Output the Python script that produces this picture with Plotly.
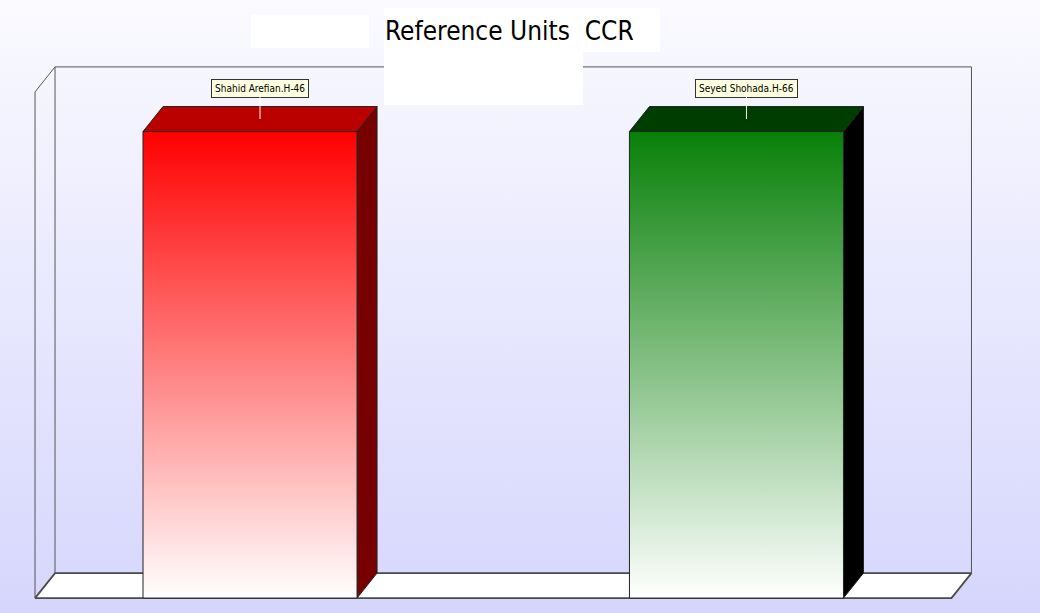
import plotly.graph_objects as go

# data
units = ["Shahid Arefian.H-46", "Seyed Shohada.H-66"]
ccr = [1.0, 1.0]
front_colors = ["#ff0000", "#088008"]
top_colors = ["#bb0000", "#003d00"]
side_colors = ["#770000", "#000000"]

W, H = 1040, 613
BAR_W = 0.44          # bar width in category units
DX, DY = 0.0411, 0.0536   # 3d depth offset
PAD = 0.222           # frame padding beyond outer bars
WALL_TOP = 1.085

X_RANGE = [-0.514, 1.624]
Y_RANGE = [-0.032, 1.282]
NARROW = "Liberation Sans Narrow, Arial Narrow, DejaVu Sans Condensed, sans-serif"

fig = go.Figure()


def poly(xs, ys, **kw):
    fig.add_trace(go.Scatter(
        x=list(xs) + [xs[0]], y=list(ys) + [ys[0]],
        fill="toself", hoverinfo="skip", showlegend=False, **kw))


def line(xs, ys, color="#5a5a5a", width=1.2):
    fig.add_trace(go.Scatter(
        x=xs, y=ys, mode="lines", line=dict(color=color, width=width),
        hoverinfo="skip", showlegend=False))


# background gradient
bx0, bx1 = X_RANGE
by0, by1 = Y_RANGE
poly([bx0, bx1, bx1, bx0], [by0, by0, by1, by1], mode="none",
     fillgradient=dict(type="vertical",
                       colorscale=[[0, "#d6d6fd"], [1, "#fafaff"]]))

# frame: floor, back wall, left wall
L = 0 - BAR_W / 2 - PAD
R = (len(units) - 1) + BAR_W / 2 + PAD
poly([L, R, R + DX, L + DX], [0, 0, DY, DY], mode="lines",
     fillcolor="white", line=dict(color="#4a4a4a", width=1.8))
line([L + DX, L + DX, R + DX, R + DX], [DY, WALL_TOP + DY, WALL_TOP + DY, DY],
     color="#555555", width=1)
line([L, L, L + DX], [0, WALL_TOP, WALL_TOP + DY], color="#555555", width=1)

# bars
for i, v in enumerate(ccr):
    xl, xr = i - BAR_W / 2, i + BAR_W / 2
    edge = dict(color="#222222", width=1)
    poly([xr, xr + DX, xr + DX, xr], [0, DY, v + DY, v], mode="lines",
         fillcolor=side_colors[i], line=edge)
    poly([xl, xr, xr + DX, xl + DX], [v, v, v + DY, v + DY], mode="lines",
         fillcolor=top_colors[i], line=edge)
    poly([xl, xr, xr, xl], [0, 0, v, v], mode="lines", line=edge,
         fillgradient=dict(type="vertical",
                           colorscale=[[0, "#ffffff"], [1, front_colors[i]]]))
    fig.add_annotation(
        x=i + DX / 2, y=v + DY / 2, text=units[i],
        showarrow=True, arrowhead=0, arrowcolor="white", arrowwidth=1,
        ax=0, ay=-31,
        font=dict(family=NARROW, size=10, color="black"),
        bgcolor="#ffffe1", bordercolor="#333333", borderwidth=1, borderpad=3)


# white blocks around the title (pixel boxes -> paper)
def px_box(x0, y0, x1, y1):
    fig.add_shape(type="rect", xref="paper", yref="paper",
                  x0=x0 / W, x1=x1 / W, y0=1 - y1 / H, y1=1 - y0 / H,
                  fillcolor="white", line=dict(width=0), layer="above")


px_box(251, 15, 369, 48)
px_box(384, 8, 660, 52)
px_box(384, 52, 583, 105)

fig.add_annotation(
    xref="paper", yref="paper", x=509 / W, y=1 - 31 / H,
    xanchor="center", yanchor="middle",
    text="Reference Units&nbsp; CCR", showarrow=False,
    font=dict(family=NARROW, size=26, color="black"))

fig.update_layout(
    width=W, height=H,
    margin=dict(l=0, r=0, t=0, b=0),
    paper_bgcolor="#ebebfe", plot_bgcolor="rgba(0,0,0,0)",
    xaxis=dict(range=X_RANGE, visible=False, fixedrange=True),
    yaxis=dict(range=Y_RANGE, visible=False, fixedrange=True),
    showlegend=False,
)

fig.write_html("out.html", config={"displayModeBar": False},
               post_script="document.body.style.margin='0';")
